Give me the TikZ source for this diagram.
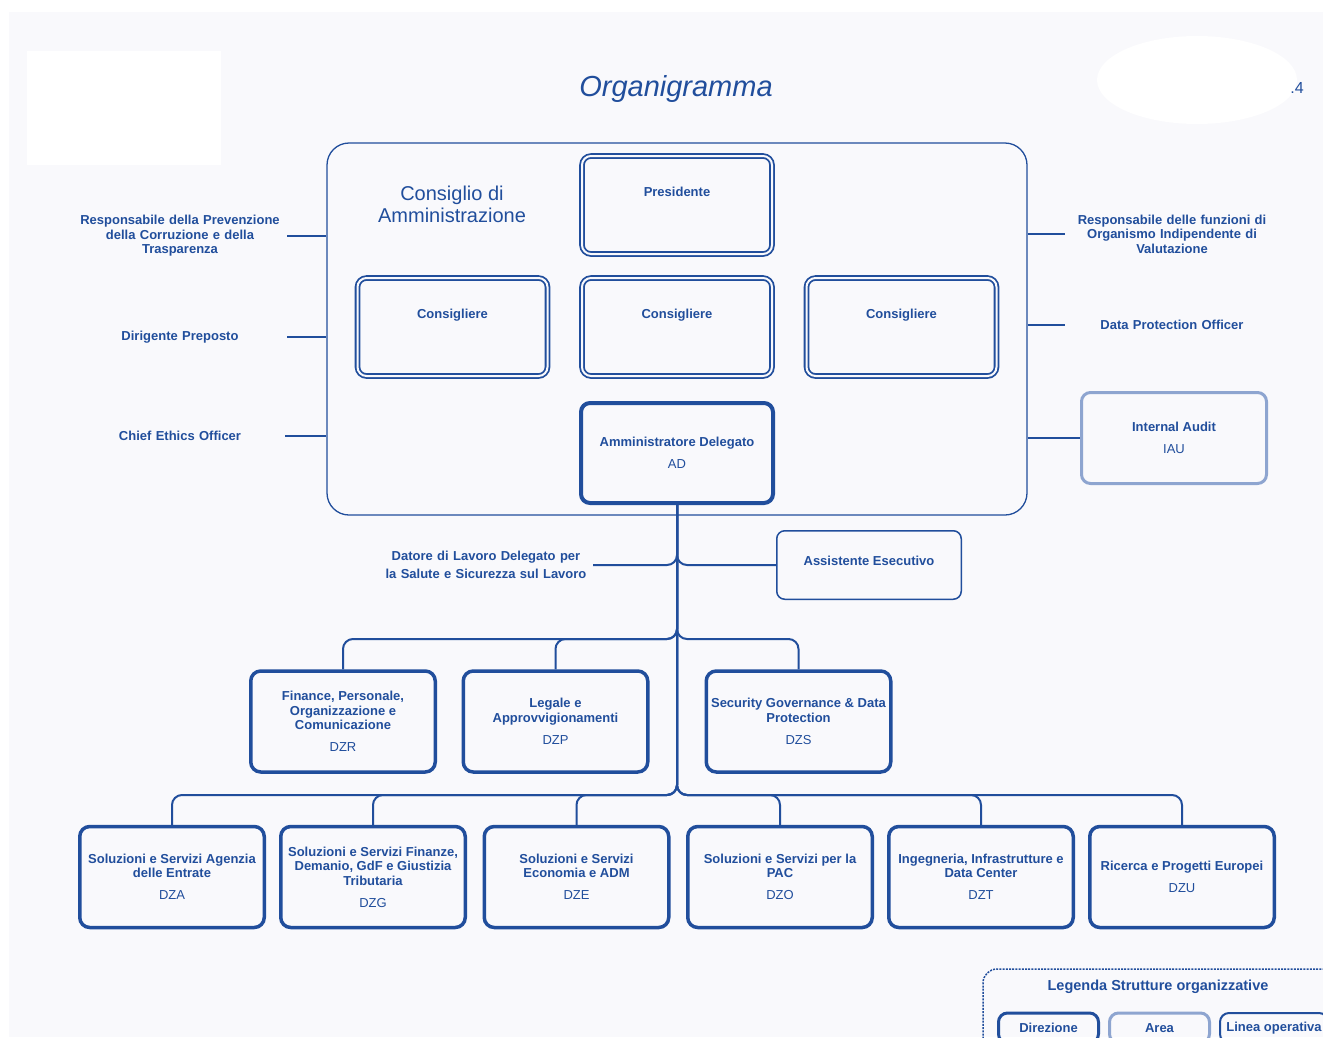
\documentclass[tikz,border=0pt]{standalone}
\usepackage{fontspec}
\setmainfont{Liberation Sans}
\definecolor{cb}{RGB}{33,78,156}
\definecolor{cl}{RGB}{142,165,208}
\definecolor{bgc}{RGB}{249,249,252}
\begin{document}
\begin{tikzpicture}[x=1pt,y=-1pt,
  lab/.style={text=cb, font=\fontsize{13}{14.5}\selectfont\bfseries, align=center, inner sep=0pt},
  side/.style={lab, text width=200pt, inner xsep=7pt},
  dbox/.style={draw=cb, line width=1.8pt, double=bgc, double distance=2pt, rounded corners=9pt, minimum width=190pt, minimum height=98pt},
  dirbox/.style={lab, draw=cb, line width=3.5pt, rounded corners=10pt, minimum width=184.5pt, minimum height=101pt},
  conn/.style={draw=cb, line width=2pt, rounded corners=10pt},
  stub/.style={draw=cb, line width=2pt}
]
\path[use as bounding box] (0,0) rectangle (1323,1037);
\clip (0,0) rectangle (1323,1037);
% background
\fill[white] (0,0) rectangle (1323,1037);
\fill[bgc] (9,12) rectangle (1323,1037);
\fill[white] (27,51) rectangle (221,165);
\fill[white] (1197,80) ellipse [x radius=100, y radius=44];
\node[text=cb, font=\fontsize{16}{18}\selectfont, anchor=east, inner sep=0pt] (pg) at (1304,88) {.4};

% title
\node[text=cb, font=\fontsize{29}{32}\selectfont\itshape, inner sep=0pt] (title) at (676,89) {Organigramma};

% CdA
\node[draw=cb, line width=1.3pt, rounded corners=22pt, minimum width=700pt, minimum height=372pt] (cda) at (677,329) {};
\node[text=cb, font=\fontsize{20}{22}\selectfont, align=center, inner sep=0pt] (cdat) at (452,204) {Consiglio di\\Amministrazione};

\node[dbox] (pres) at (677,205) {};
\node[lab] (prest) at (677,192) {Presidente};
\node[dbox] (c1) at (452.5,327) {};
\node[lab] (c1t) at (452.5,315) {Consigliere};
\node[dbox] (c2) at (677,327) {};
\node[lab] (c2t) at (677,315) {Consigliere};
\node[dbox] (c3) at (901.5,327) {};
\node[lab] (c3t) at (901.5,315) {Consigliere};

\node[lab, draw=cb, line width=4pt, rounded corners=9pt, minimum width=192pt, minimum height=100pt] (ad) at (677,453)
  {Amministratore Delegato\\[7.5pt]{\mdseries AD}};

% left side labels
\node[side] (rpct) at (180,236) {Responsabile della Prevenzione\\della Corruzione e della\\Trasparenza};
\node[side] (dp) at (180,337) {Dirigente Preposto};
\node[side, inner xsep=5pt] (ceo) at (180,436) {Chief Ethics Officer};
\draw[stub] (rpct.east) -- (rpct.east -| cda.west);
\draw[stub] (dp.east) -- (dp.east -| cda.west);
\draw[stub] (ceo.east) -- (ceo.east -| cda.west);

% right side labels
\node[side] (oiv) at (1172,234) {Responsabile delle funzioni di\\Organismo Indipendente di\\Valutazione};
\node[side] (dpo) at (1172,325) {Data Protection Officer};
\node[lab, draw=cl, line width=3pt, rounded corners=9pt, minimum width=185pt, minimum height=91pt] (iau) at (1174,438)
  {Internal Audit\\[7.5pt]{\mdseries IAU}};
\draw[stub] (cda.east |- oiv.west) -- (oiv.west);
\draw[stub] (cda.east |- dpo.west) -- (dpo.west);
\draw[stub] (cda.east |- iau.west) -- (iau.west);

% staff
\coordinate (j2) at (677,639);
\coordinate (j3) at (677,795);
\node[lab, font=\fontsize{13}{18}\selectfont\bfseries, text width=214pt, inner xsep=0pt] (dl) at (486,565) {Datore di Lavoro Delegato per\\la Salute e Sicurezza sul Lavoro};
\node[draw=cb, line width=1.5pt, rounded corners=8pt, minimum width=184.5pt, minimum height=68.5pt] (ae) at (869,565) {};
\node[lab] (aet) at (869,561) {Assistente Esecutivo};
\draw[conn] (ad.south) |- (dl.east);
\draw[conn] (ad.south) |- (ae.west);

% middle row
\node[dirbox] (dzr) at (343,721.5) {Finance, Personale,\\Organizzazione e\\Comunicazione\\[7.5pt]{\mdseries DZR}};
\node[dirbox] (dzp) at (555.5,721.5) {Legale e\\Approvvigionamenti\\[7.5pt]{\mdseries DZP}};
\node[dirbox] (dzs) at (798.5,721.5) {Security Governance \& Data\\Protection\\[7.5pt]{\mdseries DZS}};
\draw[conn] (ad.south) -- (j2) -| (dzr.north);
\draw[conn] (ad.south) -- (j2) -| (dzp.north);
\draw[conn] (ad.south) -- (j2) -| (dzs.north);

% bottom row
\node[dirbox] (dza) at (172,877) {Soluzioni e Servizi Agenzia\\delle Entrate\\[7.5pt]{\mdseries DZA}};
\node[dirbox] (dzg) at (373,877) {Soluzioni e Servizi Finanze,\\Demanio, GdF e Giustizia\\Tributaria\\[7.5pt]{\mdseries DZG}};
\node[dirbox] (dze) at (576.5,877) {Soluzioni e Servizi\\Economia e ADM\\[7.5pt]{\mdseries DZE}};
\node[dirbox] (dzo) at (780,877) {Soluzioni e Servizi per la\\PAC\\[7.5pt]{\mdseries DZO}};
\node[dirbox] (dzt) at (981,877) {Ingegneria, Infrastrutture e\\Data Center\\[7.5pt]{\mdseries DZT}};
\node[dirbox] (dzu) at (1182,877) {Ricerca e Progetti Europei\\[7.5pt]{\mdseries DZU}};
\foreach \n in {dza,dzg,dze,dzo,dzt,dzu}{
  \draw[conn] (ad.south) -- (j3) -| (\n.north);
}

% legend
\node[draw=cb, line width=1.5pt, dash pattern=on 2pt off 1.2pt, rounded corners=14pt, minimum width=362pt, minimum height=101pt] (leg) at (1164,1019.5) {};
\node[lab, font=\fontsize{14.5}{16}\selectfont\bfseries] (legt) at (1158,987) {Legenda Strutture organizzative};
\node[lab, draw=cb, line width=3pt, rounded corners=9pt, minimum width=100pt, minimum height=30pt] (ldir) at (1048.5,1028) {Direzione};
\node[lab, draw=cl, line width=3pt, rounded corners=9pt, minimum width=100pt, minimum height=30pt] (larea) at (1159.5,1028) {Area};
\node[lab, draw=cb, line width=2pt, rounded corners=9pt, minimum width=108pt, minimum height=30pt] (llin) at (1274,1028) {Linea operativa};
\end{tikzpicture}
\end{document}
